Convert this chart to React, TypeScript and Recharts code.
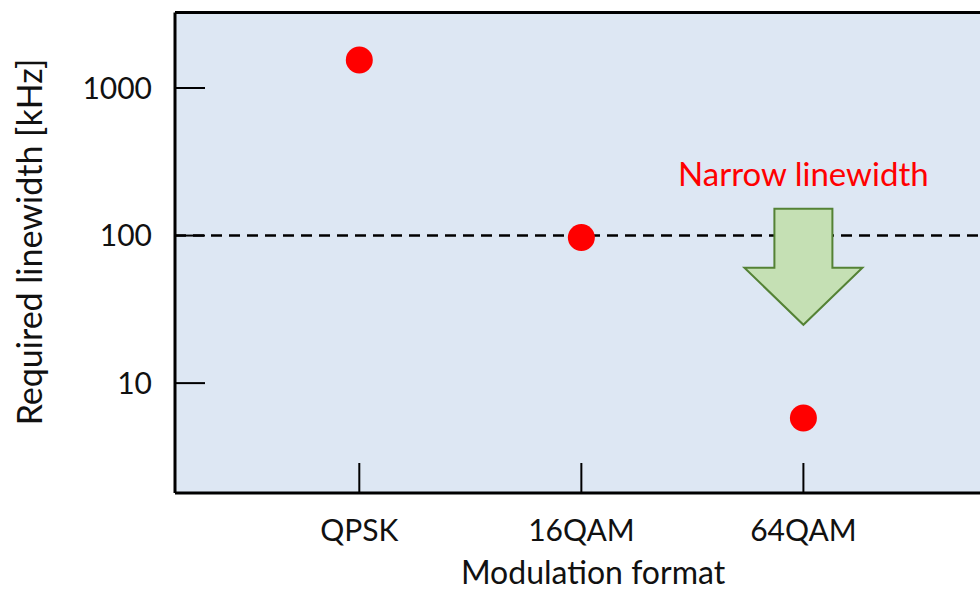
import { ScatterChart, Scatter, XAxis, YAxis, CartesianGrid, ReferenceLine, ReferenceDot } from "recharts";

const FORMATS = ["QPSK", "16QAM", "64QAM"];
const POSITIONS = [1, 2, 3];
const LINEWIDTH_KHZ = [1550, 97, 5.8];
const Y_TICKS = [10, 100, 1000];
const Y_DOMAIN: [number, number] = [1.8, 3250];
const X_DOMAIN: [number, number] = [0.17, 4.07];
const THRESHOLD = 100;
const ARROW_TOP = 152;
const NOTE_Y = 262;

const FONT = "Lato, 'Noto Sans', sans-serif";
const BG = "#dde7f3";

const data = POSITIONS.map((x, i) => ({ x, y: LINEWIDTH_KHZ[i], name: FORMATS[i] }));

function YTick({ x, y, payload }: any) {
  return (
    <g>
      <line x1={x} x2={x + 30} y1={y} y2={y} stroke="#000" strokeWidth={2} />
      <text x={x - 23} y={y} dy="0.36em" textAnchor="end" fontSize={30} fontFamily={FONT} fill="#111">
        {payload.value}
      </text>
    </g>
  );
}

function XTick({ x, y, payload }: any) {
  const label = FORMATS[POSITIONS.indexOf(payload.value)] ?? "";
  return (
    <g>
      <line x1={x} x2={x} y1={y - 30} y2={y} stroke="#000" strokeWidth={2} />
      <text x={x} y={y + 37} dy="0.36em" textAnchor="middle" fontSize={30} fontFamily={FONT} fill="#111">
        {label}
      </text>
    </g>
  );
}

function Dot({ cx, cy }: any) {
  return <circle cx={cx} cy={cy} r={13.5} fill="#ff0000" />;
}

function DownArrow({ cx, cy }: any) {
  const pts = [
    [cx - 29, cy], [cx + 29, cy], [cx + 29, cy + 59], [cx + 59, cy + 59],
    [cx, cy + 116], [cx - 59, cy + 59], [cx - 29, cy + 59],
  ].map((p) => p.join(",")).join(" ");
  return <polygon points={pts} fill="#c5e0b4" stroke="#548235" strokeWidth={2} />;
}

function Note({ cx, cy }: any) {
  return (
    <text x={cx} y={cy} dy="0.36em" textAnchor="middle" fontSize={33} fontFamily={FONT} fill="#ff0000">
      Narrow linewidth
    </text>
  );
}

export default function App() {
  return (
    <div style={{ position: "absolute", left: 0, top: 0, width: 980, height: 590, overflow: "hidden", background: "#fff" }}>
      <ScatterChart width={1041} height={590} margin={{ top: 12.5, right: 0, bottom: 37, left: 0 }}>
        <CartesianGrid fill={BG} stroke="none" horizontal={false} vertical={false} />
        <XAxis
          type="number"
          dataKey="x"
          domain={X_DOMAIN}
          ticks={POSITIONS}
          allowDataOverflow
          height={60}
          tickSize={0}
          tickMargin={0}
          tick={<XTick />}
          axisLine={{ stroke: "#000", strokeWidth: 3 }}
          label={({ viewBox }: any) => (
            <text x={593} y={viewBox.y + 79} dy="0.36em" textAnchor="middle" fontSize={32} fontFamily={FONT} fill="#111">
              Modulation format
            </text>
          )}
        />
        <YAxis
          type="number"
          dataKey="y"
          scale="log"
          domain={Y_DOMAIN}
          ticks={Y_TICKS}
          allowDataOverflow
          width={175}
          tickSize={0}
          tickMargin={0}
          tick={<YTick />}
          axisLine={{ stroke: "#000", strokeWidth: 3 }}
          label={() => (
            <text x={30} y={242} dy="0.36em" textAnchor="middle" fontSize={34} fontFamily={FONT} fill="#111" transform="rotate(-90 30 242)">
              Required linewidth [kHz]
            </text>
          )}
        />
        <ReferenceLine y={Y_DOMAIN[1]} stroke="#000" strokeWidth={3} />
        <ReferenceLine y={THRESHOLD} stroke="#000" strokeWidth={2.5} strokeDasharray="11 7" />
        <ReferenceDot x={3} y={ARROW_TOP} shape={<DownArrow />} />
        <ReferenceDot x={3} y={NOTE_Y} shape={<Note />} />
        <Scatter data={data} shape={<Dot />} isAnimationActive={false} />
      </ScatterChart>
    </div>
  );
}
